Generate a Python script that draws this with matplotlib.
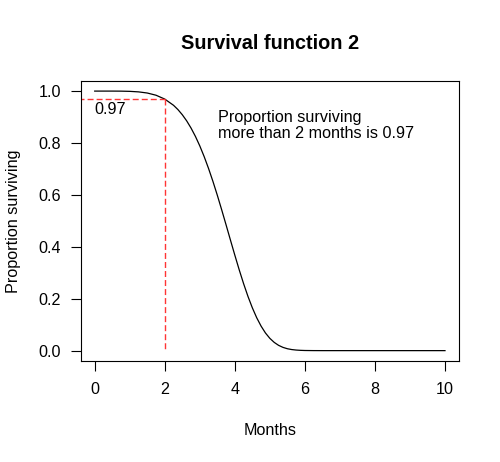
import numpy as np
import matplotlib
matplotlib.use("Agg")
import matplotlib.pyplot as plt

plt.rcParams['font.family'] = ['Liberation Sans', 'DejaVu Sans']

# survival curve
months = [0, 0.25, 0.5, 0.75, 1.0, 1.25, 1.5, 1.75, 2.0, 2.25, 2.375, 2.5,
          2.625, 2.75, 2.875, 3.0, 3.125, 3.25, 3.375, 3.5, 3.625, 3.75,
          3.875, 4.0, 4.125, 4.25, 4.375, 4.5, 4.625, 4.75, 4.875, 5.0,
          5.125, 5.25, 5.375, 5.5, 5.625, 5.75, 5.875, 6.0, 6.25, 6.5,
          7.0, 8.0, 9.0, 10.0]
surv = [1.0, 1.0, 1.0, 0.9998, 0.999, 0.997, 0.9926, 0.9841, 0.9692, 0.9453,
        0.9289, 0.909, 0.8854, 0.8576, 0.8255, 0.7888, 0.7475, 0.7018,
        0.6521, 0.5988, 0.5426, 0.4847, 0.426, 0.3679, 0.3115, 0.2582,
        0.209, 0.165, 0.1266, 0.0944, 0.0679, 0.0473, 0.0317, 0.0203,
        0.0125, 0.0073, 0.0041, 0.0022, 0.0011, 0.0005, 0.0001, 0.0,
        0.0, 0.0, 0.0, 0.0]

t_mark = 2
s_mark = 0.97
xticks = [0, 2, 4, 6, 8, 10]
yticks = [0.0, 0.2, 0.4, 0.6, 0.8, 1.0]

fs = 11.6
fig = plt.figure(figsize=(5, 4.62), dpi=100)
ax = fig.add_axes([0.1614, 0.2186, 0.7566, 0.6067])

ax.plot(months, surv, color='black', lw=0.9)
dash = (0, (4.3, 2.2))
ax.plot([-1, t_mark], [s_mark, s_mark], color='#ff3535', lw=1.0, ls=dash)
ax.plot([t_mark, t_mark], [s_mark, 0], color='#ff3535', lw=1.0, ls=dash)

ax.text(0, s_mark - 0.012, '0.97', ha='left', va='top', fontsize=fs)
ax.text(3.53, 0.868, 'Proportion surviving\nmore than 2 months is 0.97',
        ha='left', va='center', fontsize=fs, linespacing=1.05)

ax.set_xlim(-0.4, 10.4)
ax.set_ylim(-0.04, 1.04)
ax.set_xticks(xticks)
ax.set_xticklabels([str(v) for v in xticks])
ax.set_yticks(yticks)
ax.set_yticklabels([f'{v:.1f}' for v in yticks])
ax.tick_params(axis='both', length=7, width=0.8, labelsize=fs)
ax.tick_params(axis='x', pad=8)
ax.tick_params(axis='y', pad=7)
for s in ax.spines.values():
    s.set_linewidth(0.8)

ax.set_title('Survival function 2', fontsize=14.3, fontweight='bold', pad=23)
ax.set_xlabel('Months', fontsize=fs, labelpad=19)
ax.set_ylabel('Proportion surviving', fontsize=fs, labelpad=13)

fig.savefig('out.png', dpi=100)
